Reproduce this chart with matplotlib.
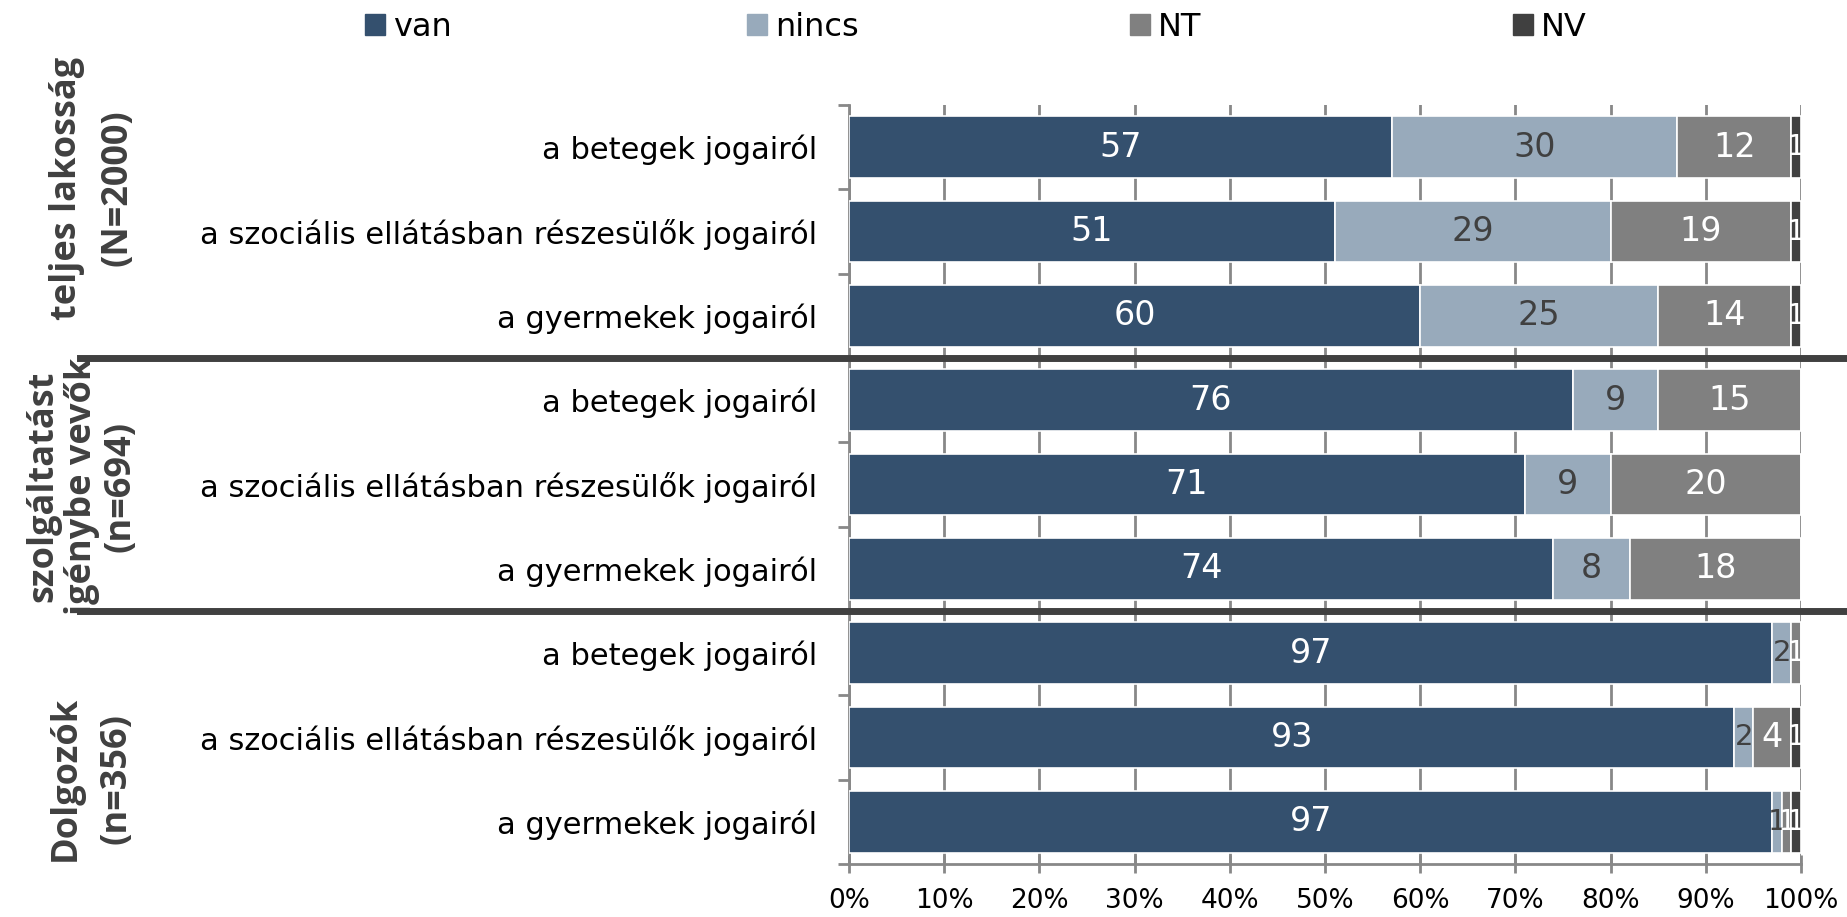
import matplotlib
matplotlib.use("Agg")
import matplotlib.pyplot as plt
from matplotlib.patches import Patch
import numpy as np

categories = [
    "a betegek jogairól",
    "a szociális ellátásban részesülők jogairól",
    "a gyermekek jogairól",
    "a betegek jogairól",
    "a szociális ellátásban részesülők jogairól",
    "a gyermekek jogairól",
    "a betegek jogairól",
    "a szociális ellátásban részesülők jogairól",
    "a gyermekek jogairól",
]
series_names = ["van", "nincs", "NT", "NV"]
van = [57, 51, 60, 76, 71, 74, 97, 93, 97]
nincs = [30, 29, 25, 9, 9, 8, 2, 2, 1]
nt = [12, 19, 14, 15, 20, 18, 1, 4, 1]
nv = [1, 1, 1, 0, 0, 0, 0, 1, 1]
group_labels = ["teljes lakosság\n(N=2000)", "szolgáltatást\nigénybe vevők\n(n=694)", "Dolgozók\n(n=356)"]
group_sizes = [3, 3, 3]
xtick_labels = ["0%", "10%", "20%", "30%", "40%", "50%", "60%", "70%", "80%", "90%", "100%"]

colors = ["#34506e", "#98aabb", "#808080", "#404040"]
label_colors = ["white", "#404040", "white", "white"]

W, H = 1847, 917
fig = plt.figure(figsize=(W / 100, H / 100), dpi=100)
ax = fig.add_axes([849 / W, 1 - 864 / H, (1801 - 849) / W, (864 - 105) / H])

n = len(categories)
y = np.arange(n)
data = [van, nincs, nt, nv]
left = np.zeros(n)
for vals, col, lc in zip(data, colors, label_colors):
    vals = np.array(vals, dtype=float)
    ax.barh(y, vals, left=left, height=0.73, color=col, edgecolor="white",
            linewidth=1.2, zorder=3)
    for yi, (l, v) in enumerate(zip(left, vals)):
        if v > 0:
            fs = 24 if v >= 3 else 21
            ax.text(l + v / 2, yi, f"{int(v)}", ha="center", va="center",
                    color=lc, fontsize=fs, zorder=4)
    left += vals

ax.set_xlim(0, 100)
ax.set_ylim(n - 0.5, -0.5)
ax.set_xticks(np.arange(0, 101, 10))
ax.set_xticklabels(xtick_labels, fontsize=19)
ax.set_yticks(y)
ax.set_yticks(np.arange(-0.5, n, 1), minor=True)
ax.set_yticklabels(categories, fontsize=22)
ax.tick_params(axis="y", which="major", length=0, pad=23)
ax.tick_params(axis="y", which="minor", length=8, width=2, color="#888888")
ax.tick_params(axis="x", which="major", direction="inout", length=13, width=2,
               color="#888888", pad=11)
ax.xaxis.grid(True, color="#888888", linewidth=2, zorder=0)
ax.set_axisbelow(True)
for s in ["top", "right"]:
    ax.spines[s].set_visible(False)
for s in ["left", "bottom"]:
    ax.spines[s].set_color("#888888")
    ax.spines[s].set_linewidth(2)

# group separators
trans = matplotlib.transforms.blended_transform_factory(fig.transFigure, ax.transData)
b = 0
for gs in group_sizes[:-1]:
    b += gs
    ax.add_line(matplotlib.lines.Line2D([80 / W, 1.0], [b - 0.5, b - 0.5], transform=trans,
                                        color="#404040", linewidth=5, clip_on=False, zorder=6))

# group labels
gpos = [(92, 188, 1.55), (82, 486, 1.08), (91, 778, 1.55)]
for lab, (gx, gy, ls) in zip(group_labels, gpos):
    fig.text(gx / W, 1 - gy / H, lab, rotation=90, ha="center", va="center",
             fontsize=26, fontweight="bold", color="#404040", family="Open Sans",
             multialignment="center", linespacing=ls)

# legend
leg_x = [372, 754, 1137, 1520]
for name, col, lx in zip(series_names, colors, leg_x):
    fig.legend(handles=[Patch(facecolor=col, edgecolor=col)], labels=[name],
               loc="center left", bbox_to_anchor=(lx / W - 0.004, 1 - 27 / H),
               frameon=False, fontsize=23, handlelength=0.65, handleheight=0.65,
               handletextpad=0.25, borderpad=0, borderaxespad=0)

fig.savefig("out.png", dpi=100)
